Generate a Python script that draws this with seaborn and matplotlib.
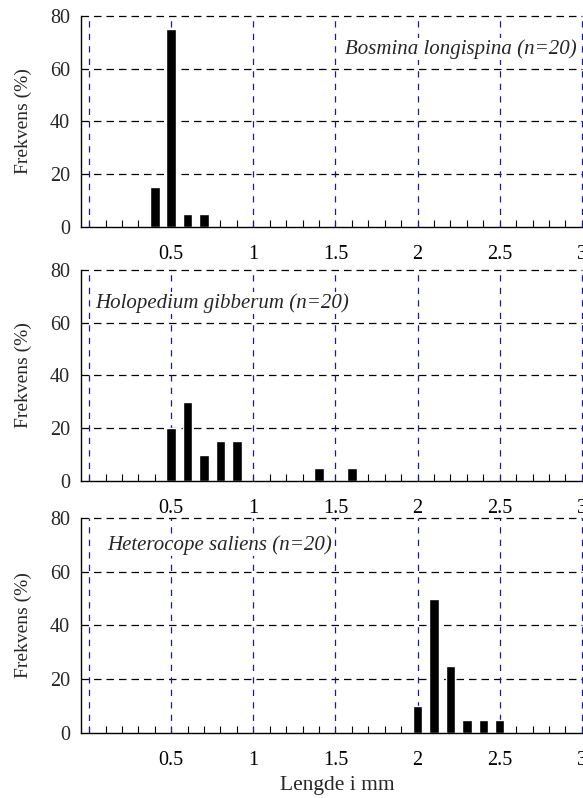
import numpy as np
import pandas as pd
import seaborn as sns
import matplotlib.pyplot as plt
from matplotlib.ticker import MultipleLocator, FixedLocator

# data: length class (mm) and frequency (%)
bosmina_len = [0.4, 0.5, 0.6, 0.7]
bosmina_pct = [15, 75, 5, 5]

holo_len = [0.5, 0.6, 0.7, 0.8, 0.9, 1.4, 1.6]
holo_pct = [20, 30, 10, 15, 15, 5, 5]

hetero_len = [2.0, 2.1, 2.2, 2.3, 2.4, 2.5]
hetero_pct = [10, 50, 25, 5, 5, 5]

species = ["Bosmina longispina (n=20)",
           "Holopedium gibberum (n=20)",
           "Heterocope saliens (n=20)"]

xticks = [0, 0.5, 1, 1.5, 2, 2.5, 3]
xticklabels = ["", "0.5", "1", "1.5", "2", "2.5", "3"]
yticks = [0, 20, 40, 60, 80]

sns.set_style("white")
plt.rcParams['font.family'] = ['Liberation Serif', 'DejaVu Serif']

fig = plt.figure(figsize=(5.83, 7.98), dpi=100)

# axes boxes [left, bottom, width, height] in figure fraction
boxes = [[0.139, 0.7155, 0.859, 0.2645],
         [0.139, 0.3972, 0.859, 0.2645],
         [0.139, 0.0815, 0.859, 0.2694]]
# label placement (axes coords) and alignment
text_pos = [(0.99, 0.843, 'right'), (0.028, 0.843, 'left'), (0.052, 0.874, 'left')]

datasets = [(bosmina_len, bosmina_pct), (holo_len, holo_pct), (hetero_len, hetero_pct)]

for i, (lens, pcts) in enumerate(datasets):
    ax = fig.add_axes(boxes[i])
    df = pd.DataFrame({'len': lens, 'pct': pcts})
    sns.barplot(data=df, x='len', y='pct', native_scale=True, width=0.58,
                color='black', saturation=1, errorbar=None, ax=ax, zorder=3)

    ax.set_xlim(-0.049, 3.0)
    ax.set_ylim(0, 80)

    # gridlines drawn by hand so they can have different colours
    for yv in yticks[1:]:
        ax.axhline(yv, color='black', lw=0.9, ls=(0, (6, 4)), zorder=1, clip_on=False)
    for xv in xticks:
        ax.axvline(xv, color='#1c1c8f', lw=0.9, ls=(0, (5, 5)), zorder=1, clip_on=False)

    ax.xaxis.set_major_locator(FixedLocator(xticks))
    ax.set_xticklabels(xticklabels, fontsize=14.5)
    ax.xaxis.set_minor_locator(MultipleLocator(0.1))
    ax.tick_params(axis='x', which='both', direction='in', length=5, width=0.8,
                   colors='black', pad=13, bottom=True)
    ax.set_yticks(yticks)
    ax.set_yticklabels([str(v) for v in yticks], fontsize=14.5)
    ax.tick_params(axis='y', length=0, pad=8)

    for s in ['top', 'right']:
        ax.spines[s].set_visible(False)
    for s in ['left', 'bottom']:
        ax.spines[s].set_color('black')
        ax.spines[s].set_linewidth(1.0)
        ax.spines[s].set_zorder(4)

    ax.set_xlabel("")
    ax.set_ylabel("Frekvens (%)", fontsize=14, labelpad=13)

    tx, ty, ha = text_pos[i]
    ax.text(tx, ty, species[i], transform=ax.transAxes, ha=ha, va='center',
            fontsize=15, style='italic', zorder=5,
            bbox=dict(facecolor='white', edgecolor='none', pad=1))

fig.text(0.578, 0.016, "Lengde i mm", ha='center', va='center', fontsize=15.5)

plt.savefig('out.png', dpi=100)
